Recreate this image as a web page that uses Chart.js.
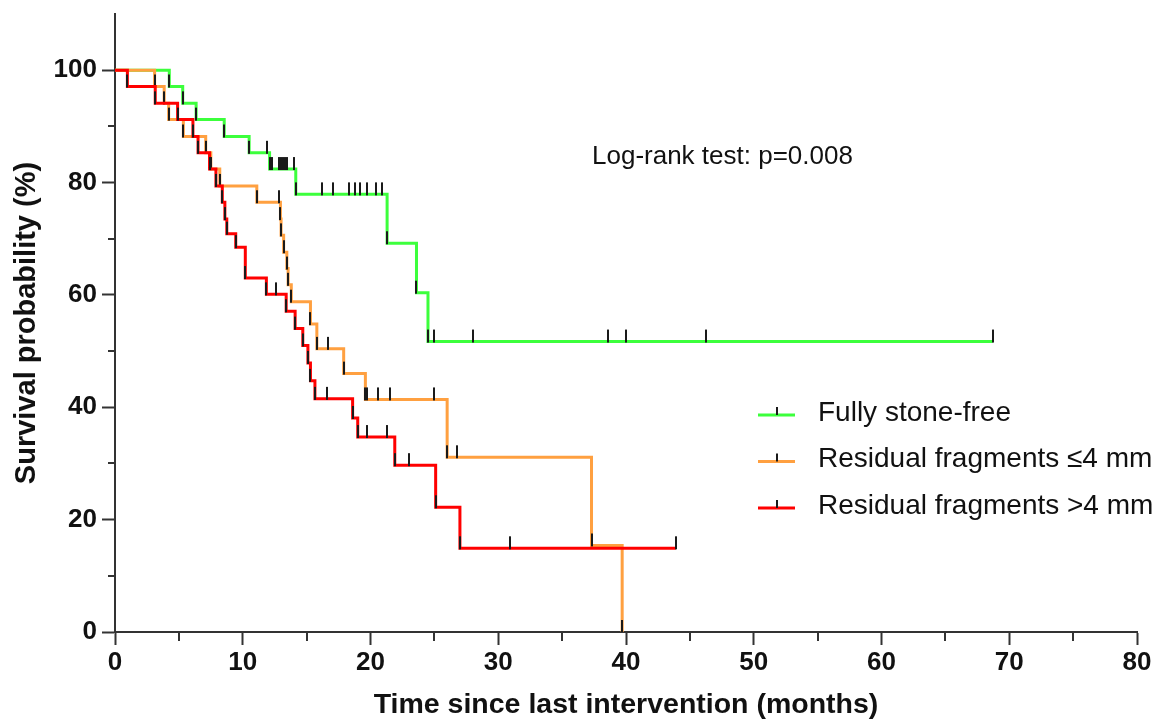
<!DOCTYPE html>
<html>
<head>
<meta charset="utf-8">
<script src="https://cdn.jsdelivr.net/npm/chart.js@4.4.1/dist/chart.umd.min.js"></script>
<style>
  html, body { margin: 0; padding: 0; background: #fff; }
  #wrap { width: 1158px; height: 722px; }
</style>
</head>
<body>
<div id="wrap"><canvas id="km" width="1158" height="722"></canvas></div>
<script>
// Kaplan-Meier steps: time (months) and survival (%)
// events and censored cases are both listed; a censored case keeps the level
const groupNames = ['Fully stone-free', 'Residual fragments \u22644 mm', 'Residual fragments >4 mm'];

const freeTime = [0, 4.25, 5.3, 6.35, 8.55, 10.5, 11.9, 12.1, 12.3, 12.8, 13.0, 13.15, 13.3, 13.5, 14.0,
  14.15, 16.2, 17.1, 18.3, 18.8, 19.2, 19.7, 20.4, 20.9, 21.3, 23.6, 24.5, 25.0, 28.0, 38.6, 40.0, 46.3, 68.7];
const freeSurv = [100, 97.1, 94.1, 91.2, 88.2, 85.3, 85.3, 82.4, 82.4, 82.4, 82.4, 82.4, 82.4, 82.4, 82.4,
  77.9, 77.9, 77.9, 77.9, 77.9, 77.9, 77.9, 77.9, 77.9, 69.2, 60.4, 51.7, 51.7, 51.7, 51.7, 51.7, 51.7, 51.7];

const smallTime = [0, 3.1, 3.85, 4.2, 5.35, 7.1, 7.5, 8.2, 11.1, 12.8, 12.95, 13.0, 13.2, 13.45, 13.55, 13.8,
  15.3, 15.8, 16.7, 17.9, 19.6, 19.75, 20.6, 21.5, 25.0, 26.0, 26.8, 37.3, 39.7];
const smallSurv = [100, 97.1, 94.1, 91.2, 88.2, 85.3, 82.4, 79.4, 76.5, 76.5, 73.5, 70.6, 67.6, 64.7, 61.8, 58.8,
  54.8, 50.4, 50.4, 46.0, 41.4, 41.4, 41.4, 41.4, 41.4, 31.1, 31.1, 15.4, 0];

const largeTime = [0, 0.97, 3.15, 4.9, 6.1, 6.5, 7.4, 7.9, 8.4, 8.6, 8.75, 9.45, 10.2, 11.85, 12.6,
  13.4, 14.1, 14.7, 15.1, 15.3, 15.65, 16.6, 18.6, 19.0, 19.75, 21.3, 21.9, 23.0, 25.1, 27.0, 30.9, 43.9];
const largeSurv = [100, 97.1, 94.1, 91.2, 88.2, 85.3, 82.4, 79.4, 76.5, 73.5, 70.9, 68.5, 63.0, 60.1, 60.1,
  57.1, 54.0, 51.0, 47.9, 44.7, 41.5, 41.5, 38.1, 34.7, 34.7, 34.7, 29.7, 29.7, 22.2, 14.9, 14.9, 14.9];

const xMinorTicks = [5, 15, 25, 35, 45, 55, 65, 75];
const yMinorTicks = [10, 30, 50, 70, 90];
const annotationText = 'Log-rank test: p=0.008';

const lineColors = ['#3cff3c', '#ffa040', '#ff0000'];
const FONT = "'Liberation Sans', Arial, sans-serif";
const AXIS = '#333333';

// black tick used for censor / event marks, drawn upward from the line
function makeTick(h) {
  const c = document.createElement('canvas');
  c.width = 2;
  c.height = h * 2;
  const g = c.getContext('2d');
  g.fillStyle = '#1a1a1a';
  g.fillRect(0, 1, 2, h);
  return c;
}
const tickMark = makeTick(13);

function series(times, surv, i) {
  return {
    label: groupNames[i],
    data: times.map((t, k) => ({ x: t, y: surv[k] })),
    stepped: 'before',
    borderColor: lineColors[i],
    borderWidth: 3,
    borderCapStyle: 'butt',
    borderJoinStyle: 'miter',
    fill: false,
    pointStyle: tickMark,
    pointRadius: ctx => (ctx.dataIndex === 0 ? 0 : 3),
    order: 3 - i
  };
}

const minorTicks = {
  id: 'minorTicks',
  afterDraw(chart) {
    const { ctx, scales: { x, y } } = chart;
    ctx.save();
    ctx.strokeStyle = AXIS;
    ctx.lineWidth = 2;
    yMinorTicks.forEach(v => {
      const py = Math.round(y.getPixelForValue(v));
      ctx.beginPath();
      ctx.moveTo(x.left - 7, py);
      ctx.lineTo(x.left, py);
      ctx.stroke();
    });
    xMinorTicks.forEach(v => {
      const px = Math.round(x.getPixelForValue(v));
      ctx.beginPath();
      ctx.moveTo(px, y.bottom);
      ctx.lineTo(px, y.bottom + 9);
      ctx.stroke();
    });
    ctx.restore();
  }
};

const legendAndNote = {
  id: 'legendAndNote',
  afterDraw(chart) {
    const { ctx, chartArea } = chart;
    ctx.save();
    // annotation
    ctx.fillStyle = '#111';
    ctx.font = '26px ' + FONT;
    ctx.textAlign = 'left';
    ctx.textBaseline = 'middle';
    ctx.fillText(annotationText, chartArea.left + 477, 157);

    // legend
    const x0 = chartArea.left + 643;
    chart.data.datasets.forEach((ds, i) => {
      const ly = 415 + i * 46.5;
      ctx.strokeStyle = ds.borderColor;
      ctx.lineWidth = 3;
      ctx.beginPath();
      ctx.moveTo(x0, ly);
      ctx.lineTo(x0 + 37, ly);
      ctx.stroke();
      ctx.strokeStyle = '#1a1a1a';
      ctx.lineWidth = 2;
      ctx.beginPath();
      ctx.moveTo(x0 + 19, ly);
      ctx.lineTo(x0 + 19, ly - 8);
      ctx.stroke();
      ctx.fillStyle = '#111';
      ctx.font = '28px ' + FONT;
      ctx.fillText(ds.label, x0 + 60, ly - 2);
    });
    ctx.restore();
  }
};

new Chart(document.getElementById('km').getContext('2d'), {
  type: 'line',
  data: {
    datasets: [
      series(freeTime, freeSurv, 0),
      series(smallTime, smallSurv, 1),
      series(largeTime, largeSurv, 2)
    ]
  },
  options: {
    responsive: false,
    animation: false,
    devicePixelRatio: 1,
    events: [],
    layout: { padding: { top: 14, right: 21, bottom: 0, left: 0 } },
    plugins: {
      legend: { display: false },
      tooltip: { enabled: false }
    },
    scales: {
      x: {
        type: 'linear',
        min: 0,
        max: 80,
        afterFit: s => { s.height = 90; },
        border: { color: AXIS, width: 2 },
        grid: { drawOnChartArea: false, tickLength: 13, tickWidth: 2, tickColor: AXIS },
        ticks: {
          stepSize: 10,
          padding: 2,
          color: '#111',
          font: { family: FONT, size: 26, weight: 'bold' }
        },
        title: {
          display: true,
          text: 'Time since last intervention (months)',
          color: '#111',
          font: { family: FONT, size: 28.5, weight: 'bold' },
          padding: 0
        }
      },
      y: {
        min: 0,
        max: 110,
        afterFit: s => { s.width = 115; s.paddingTop = 0; s.paddingBottom = 0; },
        border: { color: AXIS, width: 2 },
        grid: { drawOnChartArea: false, tickLength: 13, tickWidth: 2, tickColor: AXIS },
        ticks: {
          stepSize: 20,
          includeBounds: false,
          padding: 5,
          color: '#111',
          font: { family: FONT, size: 26, weight: 'bold' }
        },
        title: {
          display: true,
          text: 'Survival probability (%)',
          color: '#111',
          font: { family: FONT, size: 29, weight: 'bold' },
          padding: { top: 10, bottom: 0 }
        }
      }
    }
  },
  plugins: [minorTicks, legendAndNote]
});
</script>
</body>
</html>
